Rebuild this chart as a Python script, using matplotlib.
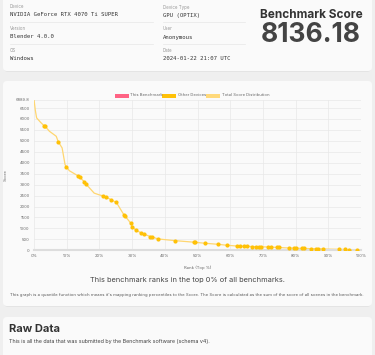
import matplotlib.pyplot as plt
from matplotlib.patches import FancyBboxPatch, Rectangle

# info card
info_labels = ['Device', 'Version', 'OS', 'Device Type', 'User', 'Date']
info_values = ['NVIDIA GeForce RTX 4070 Ti SUPER', 'Blender 4.0.0', 'Windows',
               'GPU (OPTIX)', 'Anonymous', '2024-01-22 21:07 UTC']
score_text = '8136.18'

# score distribution (rank % -> score)
dist_rank = [0, 0.4, 0.8, 2.0, 3.0, 3.4, 4.7, 6.8, 7.4, 8.6, 9.5, 9.9, 10.8, 13.4, 14.0,
             15.4, 16.0, 18.4, 19.9, 21.0, 21.9, 23.6, 25.2, 27.5, 27.8, 29.6, 30.0,
             31.2, 32.8, 33.5, 35.6, 36.1, 37.9, 43.0, 49.3, 52.4, 56.3, 59.1, 62.1,
             66.7, 71.7, 78.1, 84.7, 88.3, 93.4, 96.4, 98.8, 100]
dist_score = [6889.8, 6400, 6050, 5850, 5700, 5670, 5440, 5210, 4966, 4676, 3912, 3820,
              3637, 3407, 3331, 3132, 3010, 2613, 2536, 2490, 2445, 2307, 2185, 1620,
              1574, 1238, 1085, 917, 795, 749, 626, 611, 520, 443, 365, 320, 274, 228,
              196, 172, 150, 105, 75, 60, 45, 30, 15, 10]

# other devices
dev_rank = [3.0, 3.4, 7.4, 9.9, 13.4, 14.0, 15.4, 16.0, 21.0, 21.9, 23.6, 25.2, 27.5,
            27.8, 29.6, 30.0, 31.2, 32.8, 33.5, 35.6, 36.1, 37.9, 43.0, 48.9, 49.3,
            52.4, 56.3, 59.1, 62.1, 63.1, 64.2, 65.0, 66.7, 67.9, 68.9, 69.3, 71.7,
            72.4, 74.3, 75.0, 78.1, 79.6, 80.2, 81.9, 82.6, 84.7, 86.2, 86.7, 88.3,
            93.4, 95.0, 96.4, 98.8]
dev_score = [5700, 5670, 4966, 3820, 3407, 3331, 3132, 3010, 2490, 2445, 2307, 2185,
             1620, 1574, 1238, 1085, 917, 795, 749, 626, 611, 520, 443, 370, 365, 320,
             274, 228, 196, 190, 185, 180, 172, 165, 160, 158, 150, 145, 135, 130, 105,
             100, 98, 90, 88, 75, 68, 66, 60, 45, 40, 35, 15]

this_rank = [0]
this_score = [8136.18]

W, H = 375, 355
fig = plt.figure(figsize=(W / 100, H / 100), dpi=100)
fig.patch.set_facecolor('#efefef')

bg = fig.add_axes([0, 0, 1, 1])
bg.set_xlim(0, W)
bg.set_ylim(H, 0)
bg.axis('off')

def card(y0, y1):
    bg.add_patch(FancyBboxPatch((4, y0 + 1), W - 8, y1 - y0, boxstyle='round,pad=0,rounding_size=4',
                                fc='#e4e4e4', ec='none'))
    bg.add_patch(FancyBboxPatch((3, y0), W - 6, y1 - y0, boxstyle='round,pad=0,rounding_size=4',
                                fc='#fafafa', ec='none'))

card(-6, 71)
card(81, 306)
card(317, 362)

sans = ['Inter', 'Roboto', 'DejaVu Sans']
mono = ['DejaVu Sans Mono']

# info texts
cols = [(10, 153), (163, 245)]
for i, (lab, val) in enumerate(zip(info_labels, info_values)):
    x0, x1 = cols[i // 3]
    y = 7 + (i % 3) * 22
    bg.text(x0, y, lab, fontsize=3.2, color='#999999', family=sans, va='center')
    bg.text(x0, y + 8, val, fontsize=4.1, color='#333333', family=mono, va='center')
    if i % 3 < 2:
        bg.plot([x0, x1], [y + 15, y + 15], color='#e6e6e6', lw=0.5)

bg.text(311, 14.5, 'Benchmark Score', fontsize=8.5, weight='bold', color='#333333',
        family=sans, ha='center', va='center')
bg.text(311, 35, score_text, fontsize=19, weight='bold', color='#444444',
        family=sans, ha='center', va='center')

# legend
leg = [('This Benchmark', '#ff6384', 115), ('Other Devices', '#ffc107', 162),
       ('Total Score Distribution', '#ffd97a', 206)]
for name, c, x in leg:
    bg.add_patch(Rectangle((x, 93.5), 13.5, 4, fc=c, ec='none'))
    bg.text(x + 15.5, 95.5, name, fontsize=3, color='#666666', family=sans, va='center')

# chart
ax = fig.add_axes([34 / W, (H - 250.3) / H, 327 / W, 150.8 / H])
ax.set_facecolor('none')
ax.plot(dist_rank, dist_score, color='#ffd670', lw=0.9, zorder=2)
ax.plot(dev_rank, dev_score, 'o', color='#ffc107', ms=3.0, mew=0, zorder=3)
ax.plot(this_rank, this_score, 'o', color='#ff6384', ms=3.0, mew=0, zorder=4)
ax.set_xlim(0, 100)
ax.set_ylim(0, 6889.8)
ax.set_xticks(range(0, 101, 10))
ax.set_xticklabels([f'{v}%' for v in range(0, 101, 10)])
yt = list(range(0, 6501, 500)) + [6889.8]
ax.set_yticks(yt)
ax.set_yticklabels([str(v) for v in yt[:-1]] + ['6889.8'])
ax.tick_params(labelsize=3, colors='#666666', length=0, pad=3)
for lab in ax.get_xticklabels() + ax.get_yticklabels():
    lab.set_family(sans)
ax.grid(color='#e8e8e8', lw=0.5)
for s in ['top', 'right', 'left']:
    ax.spines[s].set_visible(False)
ax.spines['bottom'].set_color('#dddddd')
ax.spines['bottom'].set_linewidth(1.5)
ax.set_ylabel('Score', fontsize=3, color='#666666', family=sans, labelpad=6)
ax.set_xlabel('Rank (Top %)', fontsize=3, color='#666666', family=sans, labelpad=5)

bg.text(W / 2, 280, 'This benchmark ranks in the top 0% of all benchmarks.', fontsize=5.3,
        color='#444444', family=sans, ha='center', va='center')
bg.text(10, 295, "This graph is a quantile function which means it's mapping ranking percentiles "
        "to the Score. The Score is calculated as the sum of the score of all scenes in the benchmark.",
        fontsize=3.05, color='#555555', family=sans, va='center')

bg.text(9, 329.5, 'Raw Data', fontsize=8, weight='bold', color='#333333', family=sans, va='center')
bg.text(9, 342, 'This is all the data that was submitted by the Benchmark software (schema v4).',
        fontsize=3.9, color='#444444', family=sans, va='center')

fig.savefig('out.png', dpi=100, facecolor=fig.get_facecolor())
